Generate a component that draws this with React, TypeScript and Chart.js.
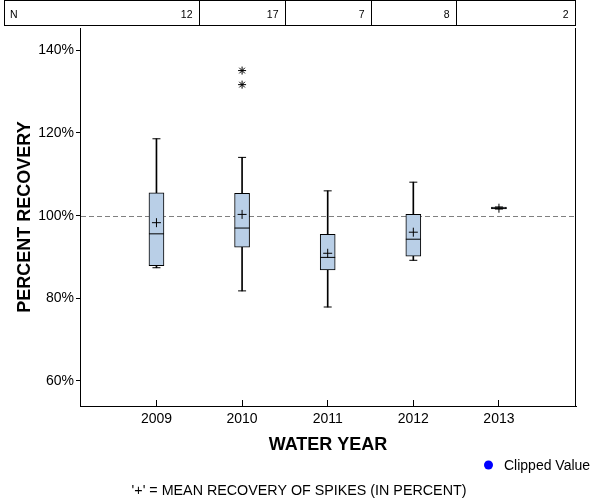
import React, { useEffect, useRef } from 'react';
import { Chart, registerables } from 'chart.js';

Chart.register(...registerables);

// ---- data ----
const years = [2009, 2010, 2011, 2012, 2013];
const counts = [12, 17, 7, 8, 2];
const whiskerLow = [87.4, 81.8, 77.9, 89.2, 101.6];
const q1 = [87.9, 92.4, 86.9, 90.2, 101.6];
const medians = [95.6, 97.0, 89.9, 94.3, 101.8];
const q3 = [105.5, 105.4, 95.5, 100.3, 102.1];
const whiskerHigh = [118.6, 114.1, 106.0, 108.1, 102.1];
const means = [98.3, 100.3, 90.9, 96.0, 101.8];
const outlierYears = [2010, 2010];
const outlierValues = [135.1, 131.7];
const yTickValues = [60, 80, 100, 120, 140];
const referenceValue = 100;
const yMin = 53.95;
const yMax = 145.4;
const xMin = 2008.107;
const xMax = 2013.9;
const xTitle = 'WATER YEAR';
const yTitle = 'PERCENT RECOVERY';
const tableLabel = 'N';
const legendLabel = 'Clipped Value';
const footnote = "'+' = MEAN RECOVERY OF SPIKES (IN PERCENT)";

const FONT = "'Liberation Sans', Arial, sans-serif";

const decorPlugin = {
  id: 'decor',
  beforeDatasetsDraw(chart: any) {
    const { ctx, chartArea, scales } = chart;
    const y = Math.round(scales.y.getPixelForValue(referenceValue)) + 0.5;
    ctx.save();
    ctx.strokeStyle = '#808080';
    ctx.lineWidth = 1;
    ctx.setLineDash([5, 3]);
    ctx.beginPath();
    ctx.moveTo(chartArea.left + 1, y);
    ctx.lineTo(chartArea.right - 1, y);
    ctx.stroke();
    ctx.restore();
  },
  afterDraw(chart: any) {
    const { ctx, chartArea, scales } = chart;
    const xs = scales.x;
    ctx.save();
    ctx.strokeStyle = '#000';
    ctx.lineWidth = 1;
    // right frame line
    const rx = chartArea.right - 0.5;
    ctx.beginPath();
    ctx.moveTo(rx, chartArea.top);
    ctx.lineTo(rx, chartArea.bottom + 1);
    ctx.stroke();
    // inward x ticks
    xs.ticks.forEach((t: any) => {
      const px = Math.round(xs.getPixelForValue(t.value) - 0.5) + 0.5;
      ctx.beginPath();
      ctx.moveTo(px, chartArea.bottom - 6);
      ctx.lineTo(px, chartArea.bottom);
      ctx.stroke();
    });
    // N table
    const tLeft = 4.5;
    const tTop = 0.5;
    const tBottom = 25.5;
    ctx.strokeRect(tLeft, tTop, rx - tLeft, tBottom - tTop);
    const bounds: number[] = [tLeft];
    for (let i = 0; i < years.length - 1; i++) {
      const bx = Math.round(xs.getPixelForValue(years[i] + 0.5)) + 0.5;
      bounds.push(bx);
      ctx.beginPath();
      ctx.moveTo(bx, tTop);
      ctx.lineTo(bx, tBottom);
      ctx.stroke();
    }
    bounds.push(rx);
    ctx.fillStyle = '#000';
    ctx.font = `10.5px ${FONT}`;
    ctx.textBaseline = 'middle';
    ctx.textAlign = 'left';
    ctx.fillText(tableLabel, 10, 15.5);
    ctx.textAlign = 'right';
    counts.forEach((c, i) => {
      ctx.fillText(String(c), bounds[i + 1] - 7, 15.5);
    });
    // legend
    ctx.fillStyle = '#0000FF';
    ctx.beginPath();
    ctx.arc(488.5, 465, 4.5, 0, Math.PI * 2);
    ctx.fill();
    ctx.fillStyle = '#000';
    ctx.font = `14px ${FONT}`;
    ctx.textAlign = 'left';
    ctx.fillText(legendLabel, 504, 466.5);
    // footnote
    ctx.font = `14.3px ${FONT}`;
    ctx.textAlign = 'center';
    ctx.fillText(footnote, 299, 491.5);
    ctx.restore();
  },
};

export default function App() {
  const ref = useRef<HTMLCanvasElement>(null);
  useEffect(() => {
    document.body.style.margin = '0';
    const canvas = ref.current;
    if (!canvas) return;
    const black = '#000000';
    const chart = new Chart(canvas, {
      type: 'bar',
      data: {
        datasets: [
          {
            type: 'bar',
            label: 'box',
            data: years.map((y, i) => ({ x: y, y: [q1[i], q3[i]] })) as any,
            backgroundColor: '#B9CFE7',
            borderColor: black,
            borderWidth: 1,
            borderSkipped: false,
            barThickness: 15,
            grouped: false,
            order: 3,
          } as any,
          {
            type: 'bar',
            label: 'lower whisker',
            data: years.map((y, i) => ({ x: y, y: [whiskerLow[i], q1[i]] })) as any,
            backgroundColor: black,
            borderWidth: 0,
            barThickness: 1,
            grouped: false,
            order: 4,
          } as any,
          {
            type: 'bar',
            label: 'upper whisker',
            data: years.map((y, i) => ({ x: y, y: [q3[i], whiskerHigh[i]] })) as any,
            backgroundColor: black,
            borderWidth: 0,
            barThickness: 1,
            grouped: false,
            order: 4,
          } as any,
          {
            type: 'scatter',
            label: 'caps',
            data: [
              ...years.map((y, i) => ({ x: y, y: whiskerLow[i] })),
              ...years.map((y, i) => ({ x: y, y: whiskerHigh[i] })),
            ],
            pointStyle: 'line',
            pointRadius: 4,
            borderColor: black,
            pointBorderColor: black,
            pointBorderWidth: 1,
            order: 2,
          } as any,
          {
            type: 'scatter',
            label: 'median',
            data: years.map((y, i) => ({ x: y, y: medians[i] })),
            pointStyle: 'line',
            pointRadius: 7.5,
            borderColor: black,
            pointBorderColor: black,
            pointBorderWidth: 1,
            order: 1,
          } as any,
          {
            type: 'scatter',
            label: 'mean',
            data: years.map((y, i) => ({ x: y, y: means[i] })),
            pointStyle: 'cross',
            pointRadius: 4.5,
            borderColor: black,
            pointBorderColor: black,
            pointBorderWidth: 1,
            order: 0,
          } as any,
          {
            type: 'scatter',
            label: 'outliers',
            data: outlierYears.map((y, i) => ({ x: y, y: outlierValues[i] })),
            pointStyle: 'star',
            pointRadius: 4,
            borderColor: black,
            pointBorderColor: black,
            pointBorderWidth: 1,
            order: 0,
          } as any,
        ],
      },
      options: {
        responsive: false,
        animation: false,
        devicePixelRatio: 1,
        events: [],
        layout: { padding: { left: 0, top: 28, right: 24, bottom: 0 } },
        plugins: {
          legend: { display: false },
          tooltip: { enabled: false },
        },
        scales: {
          x: {
            type: 'linear',
            min: xMin,
            max: xMax,
            offset: false,
            grid: { display: false, drawTicks: false, tickLength: 0, offset: false },
            border: { display: true, color: black, width: 1 },
            ticks: {
              color: black,
              font: { family: FONT, size: 14 },
              padding: 5,
              maxRotation: 0,
              callback: (v: any) => String(v),
            },
            afterBuildTicks: (scale: any) => {
              scale.ticks = years.map((v) => ({ value: v }));
            },
            afterFit: (scale: any) => {
              scale.height = 94;
            },
            title: {
              display: true,
              text: xTitle,
              color: black,
              font: { family: FONT, size: 18, weight: 'bold' },
              padding: { top: 0, bottom: 44.5 },
            },
          } as any,
          y: {
            type: 'linear',
            min: yMin,
            max: yMax,
            grid: {
              display: true,
              drawOnChartArea: false,
              drawTicks: true,
              tickLength: 4,
              color: black,
            },
            border: { display: true, color: black, width: 1 },
            ticks: {
              color: black,
              font: { family: FONT, size: 14 },
              padding: 2,
              callback: (v: any) => `${v}%`,
            },
            afterBuildTicks: (scale: any) => {
              scale.ticks = yTickValues.map((v) => ({ value: v }));
            },
            afterFit: (scale: any) => {
              scale.width = 80;
            },
            title: {
              display: true,
              text: yTitle,
              color: black,
              font: { family: FONT, size: 18, weight: 'bold' },
              padding: { top: 14, bottom: 0 },
            },
          } as any,
        },
      },
      plugins: [decorPlugin],
    });
    return () => chart.destroy();
  }, []);
  return (
    <div style={{ position: 'absolute', left: 0, top: 0, width: 600, height: 500, background: '#fff' }}>
      <canvas ref={ref} width={600} height={500} style={{ display: 'block' }} />
    </div>
  );
}
